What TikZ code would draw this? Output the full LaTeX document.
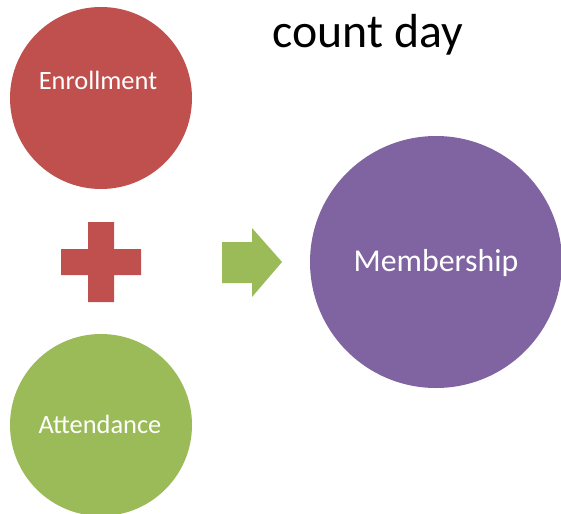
\documentclass[tikz,border=0pt]{standalone}
\usepackage{fontspec}
\setmainfont{Carlito}
\definecolor{enrollred}{HTML}{C0504D}
\definecolor{attgreen}{HTML}{9BBB59}
\definecolor{memberpurple}{HTML}{8064A2}
\begin{document}
\begin{tikzpicture}[x=1pt, y=-1pt,
		blob/.style={circle, inner sep=0pt, minimum size=182pt},
		word/.style={text=white, anchor=base, font=\fontsize{26.4}{30}\selectfont}]
		\useasboundingbox (0,0) rectangle (561,513);
		\coordinate (plus) at (101,262);
		\coordinate (arr) at (222,262);
		\node[blob, fill=enrollred] (enr) at (101,98) {};
		\node[blob, fill=attgreen] (att) at (101,425) {};
		\node[blob, fill=memberpurple, minimum size=252pt] (mem) at (436,262) {};
		\node[word] (enrtext) at (98,90) {Enrollment};
		\node[word] (atttext) at (100,433) {Attendance};
		\node[word, font=\fontsize{31.8}{36}\selectfont] (memtext) at (436,271) {Membership};
		\node[anchor=base, font=\fontsize{47.8}{54}\selectfont] (title) at (368,48) {count day};
		% plus sign
		\fill[enrollred] (plus) ++(-13,-40) -- ++(26,0) -- ++(0,27) -- ++(27,0) -- ++(0,26)
			-- ++(-27,0) -- ++(0,27) -- ++(-26,0) -- ++(0,-27) -- ++(-27,0) -- ++(0,-26) -- ++(27,0) -- cycle;
		% block arrow
		\fill[attgreen] (arr) ++(0,-20) -- ++(30,0) -- ++(0,-14) -- ++(30,34) -- ++(-30,35)
			-- ++(0,-14) -- ++(-30,0) -- cycle;
	\end{tikzpicture}
\end{document}
